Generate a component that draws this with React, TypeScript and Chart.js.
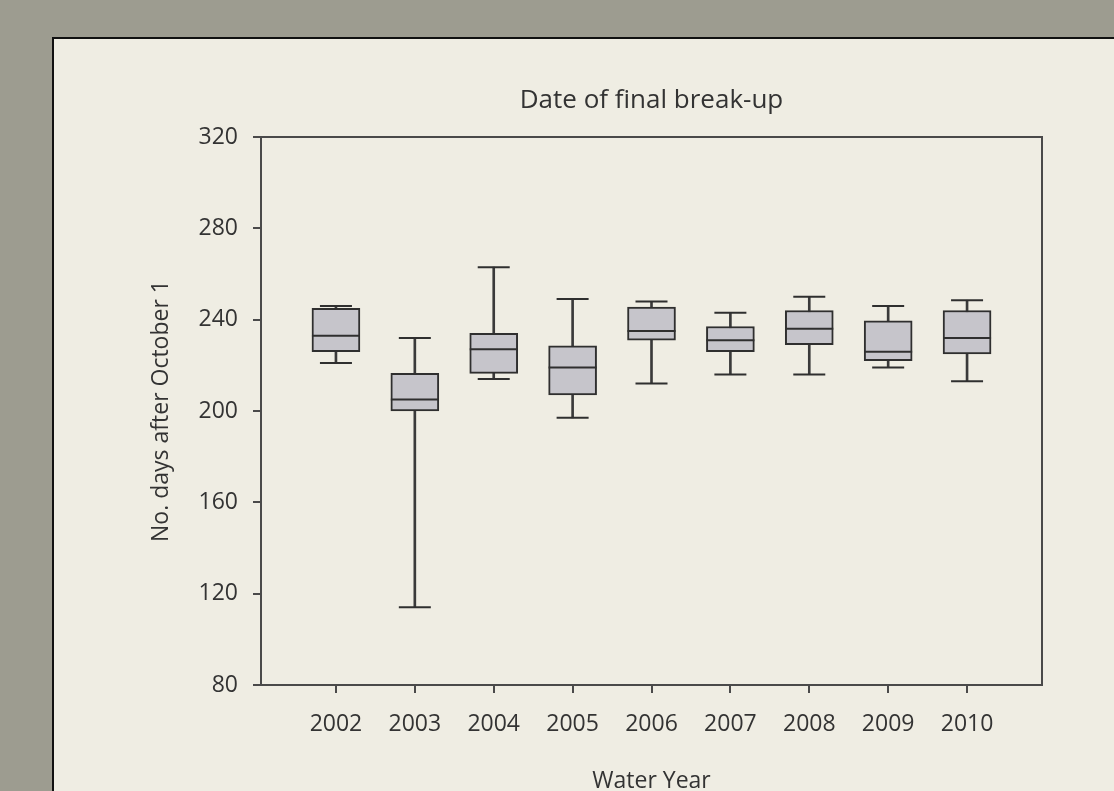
import { useEffect, useRef } from "react";
import { Chart, registerables } from "chart.js";

Chart.register(...registerables);

const years = [2002, 2003, 2004, 2005, 2006, 2007, 2008, 2009, 2010];
const whiskerLow = [221, 114, 214, 197, 212, 216, 216, 219, 213];
const quartile1 = [226, 200, 216.5, 207, 231, 226, 229, 222, 225];
const medians = [233, 205, 227, 219, 235, 231, 236, 226, 232];
const quartile3 = [245, 216.5, 234, 228.5, 245.5, 237, 244, 239.5, 244];
const whiskerHigh = [246, 232, 263, 249, 248, 243, 250, 246, 248.5];
const yTicks = [80, 120, 160, 200, 240, 280, 320];

export default function App() {
  const ref = useRef<HTMLCanvasElement>(null);

  useEffect(() => {
    const canvas = ref.current;
    if (!canvas) return;
    const frame = "#4a4a4a";
    const ink = "#2f2f2f";
    const text = "#333333";
    Chart.defaults.font.family = "'Open Sans', sans-serif";

    const chart = new Chart(canvas, {
      type: "bar",
      data: {
        datasets: [
          {
            type: "scatter",
            label: "median",
            data: years.map((x, i) => ({ x, y: medians[i] })),
            pointStyle: "line",
            pointRadius: 24,
            pointHoverRadius: 24,
            borderColor: ink,
            pointBorderColor: ink,
            pointBorderWidth: 2,
            order: 0,
          } as any,
          {
            type: "scatter",
            label: "caps",
            data: [
              ...years.map((x, i) => ({ x, y: whiskerHigh[i] })),
              ...years.map((x, i) => ({ x, y: whiskerLow[i] })),
            ],
            pointStyle: "line",
            pointRadius: 16,
            pointHoverRadius: 16,
            borderColor: ink,
            pointBorderColor: ink,
            pointBorderWidth: 2,
            order: 1,
          } as any,
          {
            type: "bar",
            label: "box",
            data: years.map((x, i) => ({ x, y: [quartile1[i], quartile3[i]] })),
            barThickness: 48,
            backgroundColor: "#c6c5cb",
            borderColor: ink,
            borderWidth: 2,
            borderSkipped: false,
            grouped: false,
            order: 2,
          } as any,
          {
            type: "bar",
            label: "whisker",
            data: years.map((x, i) => ({ x, y: [whiskerLow[i], whiskerHigh[i]] })),
            barThickness: 2,
            backgroundColor: "#3a3a3a",
            borderWidth: 0,
            grouped: false,
            order: 3,
          } as any,
        ],
      },
      options: {
        animation: false,
        responsive: false,
        maintainAspectRatio: false,
        events: [],
        layout: { padding: { left: 0, right: 72, top: 0, bottom: 0 } },
        plugins: {
          legend: { display: false },
          tooltip: { enabled: false },
          title: { display: false },
        },
        scales: {
          x: {
            type: "linear",
            position: "bottom",
            min: 2001.05,
            max: 2010.95,
            offset: false,
            afterBuildTicks: (s: any) => {
              s.ticks = years.map((v) => ({ value: v }));
            },
            afterFit: (s: any) => {
              s.height = 124;
            },
            grid: {
              offset: false,
              drawOnChartArea: false,
              drawTicks: true,
              tickLength: 8,
              color: frame,
              lineWidth: 2,
            },
            border: { display: true, color: frame, width: 2 },
            ticks: {
              padding: 18,
              color: text,
              font: { size: 23 },
              maxRotation: 0,
              autoSkip: false,
              callback: (v: any) => String(v),
            },
            title: {
              display: true,
              text: "Water Year",
              color: text,
              font: { size: 23 },
              padding: { top: 0, bottom: 14 },
            },
          },
          y: {
            type: "linear",
            position: "left",
            min: 80,
            max: 320,
            beginAtZero: false,
            afterBuildTicks: (s: any) => {
              s.ticks = yTicks.map((v) => ({ value: v }));
            },
            afterFit: (s: any) => {
              s.width = 207;
            },
            grid: {
              drawOnChartArea: false,
              drawTicks: true,
              tickLength: 8,
              color: frame,
              lineWidth: 2,
            },
            border: { display: true, color: frame, width: 2 },
            ticks: {
              padding: 15,
              color: text,
              font: { size: 23 },
              callback: (v: any) => String(v),
            },
            title: {
              display: true,
              text: "No. days after October 1",
              color: text,
              font: { size: 23 },
              padding: { top: 94, bottom: 0 },
            },
          },
          xTop: {
            type: "linear",
            position: "top",
            min: 2001.05,
            max: 2010.95,
            afterFit: (s: any) => {
              s.height = 98;
            },
            ticks: { display: false },
            grid: { display: false, drawTicks: false },
            border: { display: true, color: frame, width: 2 },
            title: {
              display: true,
              text: "Date of final break-up",
              color: text,
              font: { size: 26 },
              padding: { top: 46, bottom: 0 },
            },
          },
          yRight: {
            type: "linear",
            position: "right",
            min: 80,
            max: 320,
            afterFit: (s: any) => {
              s.width = 0;
            },
            ticks: { display: false },
            grid: { display: false, drawTicks: false },
            border: { display: true, color: frame, width: 2 },
          },
        },
      } as any,
    });
    return () => chart.destroy();
  }, []);

  return (
    <div
      style={{
        position: "fixed",
        left: 0,
        top: 0,
        width: 1114,
        height: 791,
        background: "#9d9c90",
        overflow: "hidden",
      }}
    >
      <div
        style={{
          position: "absolute",
          left: 52,
          top: 37,
          width: 1100,
          height: 800,
          background: "#efede3",
          borderTop: "2px solid #111",
          borderLeft: "2px solid #111",
        }}
      >
        <canvas
          ref={ref}
          width={1060}
          height={770}
          style={{ position: "absolute", left: 0, top: 0, width: 1060, height: 770 }}
        />
      </div>
    </div>
  );
}
